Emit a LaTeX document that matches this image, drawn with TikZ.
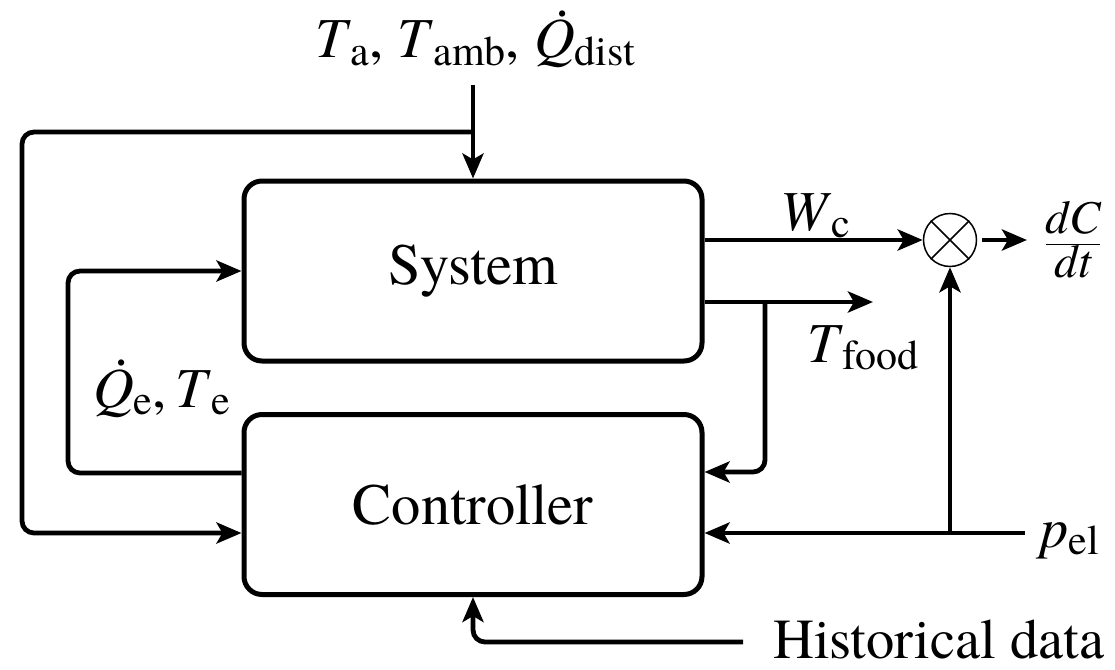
\documentclass[tikz,border=0pt]{standalone}
\usepackage{fontspec}
\setmainfont{texgyretermes}[Extension=.otf,UprightFont=*-regular,ItalicFont=*-italic,BoldFont=*-bold,BoldItalicFont=*-bolditalic]
\usetikzlibrary{arrows.meta}
\newcommand{\sbs}[1]{\raisebox{-7pt}{\fontsize{42}{42}\selectfont #1}}
\newcommand{\qd}{\makebox[0pt][l]{\hspace{0.38em}\smash{\raisebox{0.74em}{.}}}\textit{Q}}
\begin{document}
\begin{tikzpicture}[x=1pt,y=-1pt,
  conn/.style={line width=4.8pt,rounded corners=12pt,-{Stealth[length=25pt,width=21pt,inset=6pt]}},
  blockbox/.style={draw,line width=5pt,rounded corners=18pt,minimum width=458pt,minimum height=180pt,inner sep=0pt,font=\fontsize{58.5}{60}\selectfont},
  lbl/.style={inner sep=0pt,anchor=base west,font=\fontsize{56.5}{60}\selectfont},
  thin/.style={line width=1.5pt}]
\useasboundingbox (0,0) rectangle (1115,669);

% blocks
\node[blockbox] (sys) at (473,271) {System};
\node[blockbox] (ctl) at (473,504.5) {Controller};
\node[draw,circle,thin,minimum size=53pt,inner sep=0pt] (mul) at (950,240) {};
\draw[thin] (mul.north west) -- (mul.south east);
\draw[thin] (mul.north east) -- (mul.south west);

% labels
\node[lbl] (dist) at (315,58) {\textit{T}\sbs{a}, \textit{T}\sbs{amb}, \qd\sbs{dist}};
\node[lbl] (qe) at (93,407) {\qd\sbs{e},\hspace{0.15em}\textit{T}\sbs{e}};
\node[lbl] (wc) at (780,230) {\textit{W}\sbs{c}};
\node[lbl] (tf) at (807,362) {\textit{T}\sbs{food}};
\node[lbl] (pel) at (1040,547) {\textit{p}\sbs{el}};
\node[lbl] (hist) at (773,658) {Historical data};
\node[inner sep=0pt,font=\fontsize{47}{48}\selectfont] (dcdt) at (1073,240) {$\displaystyle\frac{\textit{dC}}{\textit{dt}}$};

% coordinates
\coordinate (inTop) at (473,85);
\coordinate (jTop) at (473,132);
\coordinate (oL) at (22,533);
\coordinate (iL) at (68,473);
\coordinate (tEnd) at (873,302);
\coordinate (br) at (765,302);
\coordinate (brDown) at (765,472);
\coordinate (pelS) at (1025,533);
\coordinate (pj) at (950,533);
\coordinate (outEnd) at (1027,240);
\coordinate (hS) at (743,642);

% connectors
\draw[conn] (inTop) -- (sys.north);
\draw[conn] (jTop) -| (oL) -- (ctl.west |- oL);
\draw[conn] (ctl.west |- iL) -- (iL) |- (sys.west);
\draw[conn] (sys.east |- mul.west) -- (mul.west);
\draw[conn,shorten <=5pt] (mul.east) -- (outEnd);
\draw[conn] (sys.east |- tEnd) -- (tEnd);
\draw[conn] (br) -- (brDown) -- (ctl.east |- brDown);
\draw[conn] (pelS) -- (ctl.east |- pelS);
\draw[conn] (pj) -- (mul.south);
\draw[conn] (hS) -| (ctl.south);
\end{tikzpicture}
\end{document}
